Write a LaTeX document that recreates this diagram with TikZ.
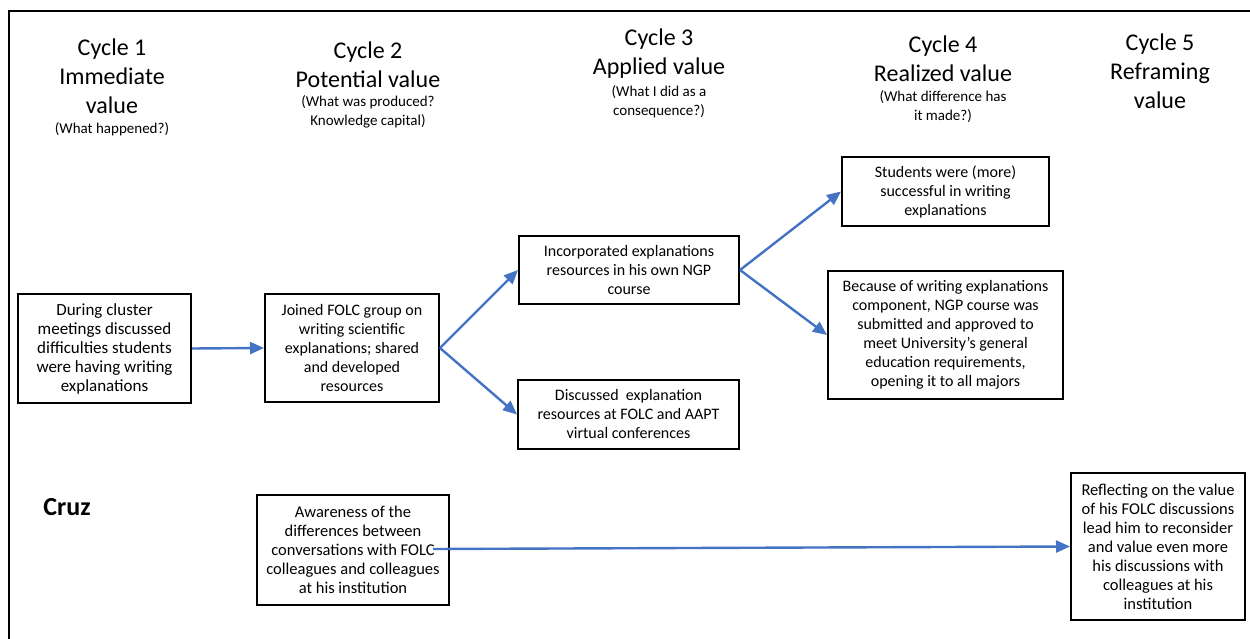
\documentclass[tikz,border=0pt]{standalone}
\usepackage{fontspec}
\setmainfont{Carlito}
\usetikzlibrary{arrows.meta}
\definecolor{flowblue}{RGB}{68,114,196}

\begin{document}
\begin{tikzpicture}[x=1pt,y=-1pt,
  box/.style={draw=black, line width=2pt, align=center, inner sep=0pt,
    font=\fontsize{16}{19}\selectfont},
  title/.style={align=center, inner sep=0pt, font=\fontsize{24}{29}\selectfont},
  sub/.style={align=center, inner sep=0pt, font=\fontsize{15}{19}\selectfont},
  flow/.style={draw=flowblue, line width=2.4pt, -{Triangle[length=14pt,width=12pt]}}
]
\useasboundingbox (0,0) rectangle (1250,639);

% outer frame (runs off the right and bottom edges)
\draw[line width=2.5pt] (9,650) -- (9,11) -- (1260,11);

% column headings
\node[title] (h1) at (112,76.5) {Cycle 1\\Immediate\\value};
\node[sub]   (s1) at (112,129) {(What happened?)};
\node[title] (h2) at (368,64.5) {Cycle 2\\Potential value};
\node[sub]   (s2) at (368,112) {(What was produced?\\Knowledge capital)};
\node[title] (h3) at (659,54) {Cycle 3\\Applied value};
\node[sub]   (s3) at (659,101.5) {(What I did as a\\consequence?)};
\node[title] (h4) at (943,59) {Cycle 4\\Realized value};
\node[sub]   (s4) at (943,106.5) {(What difference has\\it made?)};
\node[title] (h5) at (1160,71) {Cycle 5\\Reframing\\value};

\node[inner sep=0pt, font=\fontsize{26}{30}\selectfont\bfseries] (cruz) at (67,507) {Cruz};

% boxes
\node[box, minimum width=173pt, minimum height=109pt,
      font=\fontsize{17}{19}\selectfont] (A) at (104.5,348.5)
  {During cluster\\meetings discussed\\difficulties students\\were having writing\\explanations};
\node[box, minimum width=174pt, minimum height=108pt] (B) at (352,348)
  {Joined FOLC group on\\writing scientific\\explanations; shared\\and developed\\resources};
\node[box, minimum width=220pt, minimum height=68pt] (C) at (629,270)
  {Incorporated explanations\\resources in his own NGP\\course};
\node[box, minimum width=221pt, minimum height=69pt] (D) at (628.5,414.5)
  {Discussed\ \ explanation\\resources at FOLC and AAPT\\virtual conferences};
\node[box, minimum width=207pt, minimum height=69pt] (E) at (945.5,191.5)
  {Students were (more)\\successful in writing\\explanations};
\node[box, minimum width=235pt, minimum height=128pt] (F) at (945.5,335)
  {Because of writing explanations\\component, NGP course was\\submitted and approved to\\meet University's general\\education requirements,\\opening it to all majors};
\node[box, minimum width=192pt, minimum height=110pt,
      font=\fontsize{16.5}{19}\selectfont] (G) at (353,550)
  {Awareness of the\\differences between\\conversations with FOLC\\colleagues and colleagues\\at his institution};
\node[box, minimum width=174pt, minimum height=147pt,
      font=\fontsize{16.5}{19}\selectfont] (H) at (1158,546.5)
  {Reflecting on the value\\of his FOLC discussions\\lead him to reconsider\\and value even more\\his discussions with\\colleagues at his\\institution};

% connectors
\coordinate (gstart) at (433,549);
\draw[flow] (A.east) -- (B.west);
\draw[flow] (B.east) -- (C.west);
\draw[flow] (B.east) -- (D.west);
\draw[flow] (C.east) -- (E.west);
\draw[flow] (C.east) -- (F.west);
\draw[flow] (gstart) -- (H.west);
\end{tikzpicture}
\end{document}
